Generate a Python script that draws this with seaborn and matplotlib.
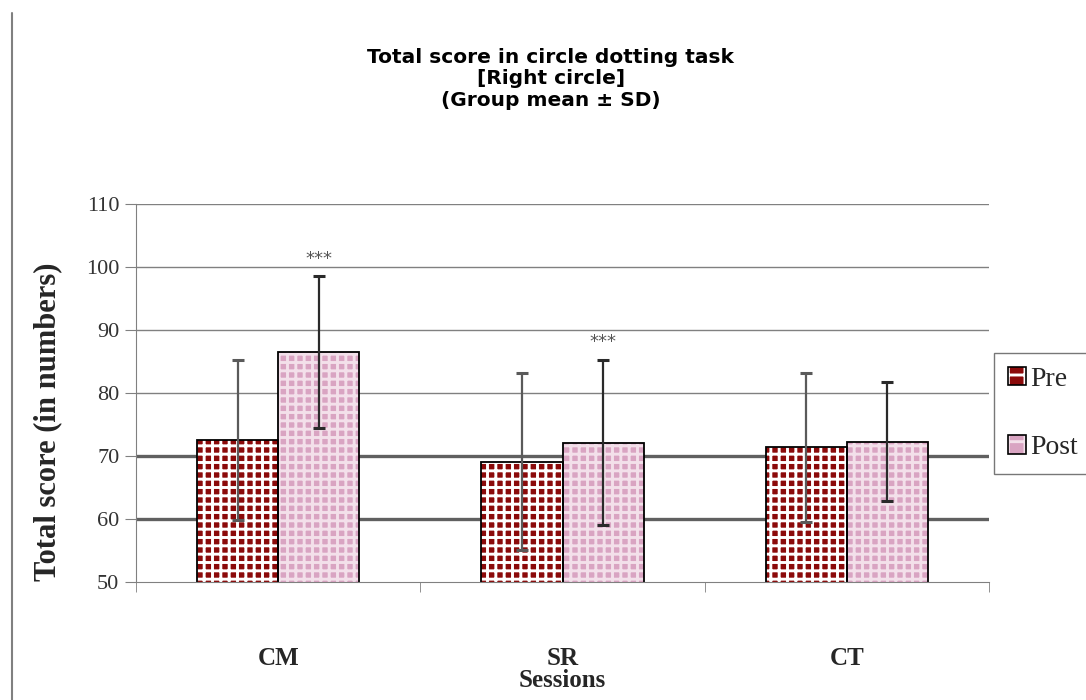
import matplotlib
matplotlib.use("Agg")
import matplotlib.pyplot as plt
import seaborn as sns
import pandas as pd
from matplotlib.patches import Rectangle
from matplotlib.lines import Line2D
from matplotlib.legend_handler import HandlerTuple

sessions = ["CM", "SR", "CT"]
phases = ["Pre", "Post"]
pre_mean = [72.5, 69.1, 71.4]
post_mean = [86.5, 72.1, 72.3]
pre_sd = [12.7, 14.0, 11.8]
post_sd = [12.0, 13.1, 9.5]
stars = ["***", "***", ""]
yticks = [50, 60, 70, 80, 90, 100, 110]

df = pd.DataFrame({
    "Session": sessions * 2,
    "Phase": ["Pre"] * 3 + ["Post"] * 3,
    "Mean": pre_mean + post_mean,
    "SD": pre_sd + post_sd,
})

sns.set_style("white")
plt.rcParams["hatch.linewidth"] = 2.1
serif = ["Liberation Serif", "DejaVu Serif"]
sans = ["DejaVu Sans"]

fig = plt.figure(figsize=(10.86, 7.0), dpi=100)
ax = fig.add_axes([136 / 1086, 1 - 582 / 700, (989 - 136) / 1086, (582 - 204) / 700])

sns.barplot(data=df, x="Session", y="Mean", hue="Phase", order=sessions,
            hue_order=phases, errorbar=None, width=0.57, gap=0,
            palette={"Pre": "#8b0a0a", "Post": "#dcaac6"}, ax=ax, legend=False,
            zorder=3)

ax.set_ylim(50, 110)
ax.set_xlim(-0.5, 2.5)

# gridlines
for y in yticks[1:]:
    lw = 2.4 if y in (60, 70) else 1.0
    col = "#606060" if y in (60, 70) else "#808080"
    ax.axhline(y, color=col, lw=lw, zorder=1)

styles = {"Pre": ("#8b0a0a", "white", "++"), "Post": ("#d9a4c2", "#f3e0ea", "++")}
bars = ax.patches[:6]
means = pre_mean + post_mean
sds = pre_sd + post_sd
for i, p in enumerate(bars):
    ph = "Pre" if i < 3 else "Post"
    face, hcol, hatch = styles[ph]
    p.set_facecolor(face)
    p.set_edgecolor(hcol)
    p.set_hatch(hatch)
    p.set_linewidth(0)
    ax.add_patch(Rectangle((p.get_x(), p.get_y()), p.get_width(), p.get_height(),
                           fill=False, edgecolor="black", lw=1.3, zorder=4))
    cx = p.get_x() + p.get_width() / 2
    ax.errorbar(cx, means[i], yerr=sds[i], fmt="none",
                ecolor="#2a2a2a" if ph == "Post" else "#5a5a5a",
                elinewidth=1.6, capsize=4, capthick=2.2, zorder=5)
    if ph == "Post" and stars[i - 3]:
        ax.text(cx, means[i] + sds[i] + 1.4, stars[i - 3], ha="center", va="bottom",
                fontsize=13, color="#555555", family=sans)

# axes styling
for s in ["top", "right"]:
    ax.spines[s].set_visible(False)
ax.spines["left"].set_color("#808080")
ax.spines["bottom"].set_color("#808080")
ax.spines["left"].set_zorder(6)
ax.spines["bottom"].set_zorder(6)

ax.set_yticks(yticks)
ax.set_yticklabels([str(v) for v in yticks], family=serif, fontsize=16, color="#333333")
ax.tick_params(axis="y", direction="out", length=8, color="#808080", left=True, pad=4)

ax.set_xticks(range(3))
ax.set_xticklabels(sessions, family=serif, fontsize=18, fontweight="bold")
ax.tick_params(axis="x", which="major", length=0, pad=47)
ax.set_xticks([-0.5, 0.5, 1.5, 2.5], minor=True)
ax.tick_params(axis="x", which="minor", direction="out", length=7, color="#808080", bottom=True)

ax.set_xlabel("Sessions", family=serif, fontsize=18, fontweight="bold", labelpad=-1)
ax.set_ylabel("Total score (in numbers)", family=serif, fontsize=22, fontweight="bold")
ax.yaxis.set_label_coords(-0.087, 0.423)

fig.text(0.507, 1 - 79 / 700, "Total score in circle dotting task\n[Right circle]\n(Group mean \u00b1 SD)",
         ha="center", va="center", fontsize=14.5, fontweight="bold", family=sans,
         linespacing=1.15, color="black")

handles = [(Rectangle((0, 0), 1, 1, facecolor=styles[ph][0], edgecolor=styles[ph][1],
                      hatch="+", lw=0),
            Rectangle((0, 0), 1, 1, fill=False, edgecolor="black", lw=1.2))
           for ph in phases]
leg = fig.legend(handles, phases, loc="upper left",
                 bbox_to_anchor=(994 / 1086, 1 - 353 / 700),
                 handler_map={tuple: HandlerTuple(ndivide=1, pad=0)},
                 prop={"family": serif, "size": 20}, frameon=True, fancybox=False,
                 handlelength=0.65, handleheight=0.65, handletextpad=0.15,
                 labelspacing=1.55, borderpad=0.5, borderaxespad=0)
leg.get_frame().set_edgecolor("#555555")
leg.get_frame().set_linewidth(1.0)

fig.add_artist(Line2D([12 / 1086, 12 / 1086], [0, 1 - 13 / 700], color="#808080", lw=1.5))

fig.savefig("out.png", dpi=100)
